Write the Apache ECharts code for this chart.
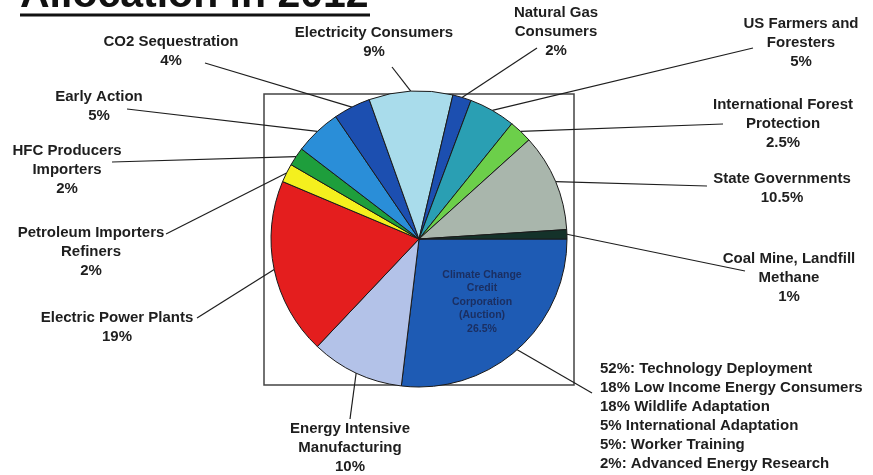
<!DOCTYPE html>
<html><head><meta charset="utf-8">
<script src="https://cdn.jsdelivr.net/npm/echarts@6/dist/echarts.min.js"></script>
<style>html,body{margin:0;padding:0;background:#fff}#c{width:873px;height:475px}</style>
</head><body><div id="c"></div>
<script>
// ---- data ----
const categories = [
  'Climate Change\nCredit\nCorporation\n(Auction)',
  'Energy Intensive\nManufacturing',
  'Electric Power Plants',
  'Petroleum Importers\nRefiners',
  'HFC Producers\nImporters',
  'Early Action',
  'CO2 Sequestration',
  'Electricity Consumers',
  'Natural Gas\nConsumers',
  'US Farmers and\nForesters',
  'International Forest\nProtection',
  'State Governments',
  'Coal Mine, Landfill\nMethane'
];
const values = [26.5, 10, 19, 2, 2, 5, 4, 9, 2, 5, 2.5, 10.5, 1];
const auctionUses = [
  '52%: Technology Deployment',
  '18% Low Income Energy Consumers',
  '18% Wildlife Adaptation',
  '5% International Adaptation',
  '5%: Worker Training',
  '2%: Advanced Energy Research'
];
const titleText = 'Allocation in 2012';

// ---- styling / layout ----
const colors = ['#1e5bb4','#b3c2e8','#e41e1e','#f4f01e','#1e9e3c','#2a8ed8','#1c4fb0',
                '#a9dceb','#1c4fb0','#2a9fb3','#6ccf4a','#a9b6ac','#14322a'];
// label placement: x,y = text anchor; ax,ay = leader line end at the label
const labelPos = [
  {x:600, y:359, align:'left',   va:'top',    ax:592, ay:393},
  {x:350, y:448, align:'center', va:'middle', ax:350, ay:419},
  {x:117, y:327, align:'center', va:'middle', ax:197, ay:318},
  {x:91,  y:252, align:'center', va:'middle', ax:166, ay:234},
  {x:67,  y:170, align:'center', va:'middle', ax:112, ay:162},
  {x:99,  y:106, align:'center', va:'middle', ax:127, ay:109},
  {x:171, y:51,  align:'center', va:'middle', ax:205, ay:63},
  {x:374, y:42,  align:'center', va:'middle', ax:392, ay:67},
  {x:556, y:32,  align:'center', va:'middle', ax:537, ay:48},
  {x:801, y:43,  align:'center', va:'middle', ax:753, ay:48},
  {x:783, y:124, align:'center', va:'middle', ax:723, ay:124},
  {x:782, y:188, align:'center', va:'middle', ax:707, ay:186},
  {x:789, y:278, align:'center', va:'middle', ax:745, ay:271}
];
const pieCenter = [419, 239];
const pieRadius = 148;
const FONT = '"Liberation Sans", Arial, sans-serif';

const data = categories.map((name, i) => ({
  name: name, value: values[i], itemStyle: {color: colors[i]}
}));

const chart = echarts.init(document.getElementById('c'), null, {renderer: 'canvas'});
chart.setOption({
  animation: false,
  backgroundColor: '#ffffff',
  graphic: [
    {type: 'rect', z: -1, shape: {x: 264, y: 94, width: 310, height: 291},
     style: {fill: 'none', stroke: '#444', lineWidth: 1.5}},
    {type: 'text', x: 20, y: -4,
     style: {text: titleText, font: 'bold 41px ' + FONT, fill: '#111', textVerticalAlign: 'middle'}},
    {type: 'line', shape: {x1: 20, y1: 15, x2: 370, y2: 15}, style: {stroke: '#111', lineWidth: 3}}
  ],
  series: [
    {
      type: 'pie',
      center: pieCenter,
      radius: pieRadius,
      startAngle: 0,
      clockwise: true,
      avoidLabelOverlap: false,
      data: data,
      itemStyle: {borderColor: '#1a1a1a', borderWidth: 1},
      emphasis: {disabled: true},
      label: {
        show: true,
        position: 'outer',
        alignTo: 'none',
        color: '#1e1e1e',
        fontFamily: FONT,
        fontWeight: 'bold',
        fontSize: 15,
        lineHeight: 19,
        formatter: function (p) {
          if (p.dataIndex === 0) return auctionUses.join('\n');
          return p.name + '\n' + values[p.dataIndex] + '%';
        },
        rich: {}
      },
      labelLine: {show: true, length: 10, length2: 10, smooth: false,
                  lineStyle: {color: '#1e1e1e', width: 1.2}},
      labelLayout: function (p) {
        const L = labelPos[p.dataIndex];
        const res = {x: L.x, y: L.y, align: L.align, verticalAlign: L.va};
        if (p.labelLinePoints) {
          res.labelLinePoints = [p.labelLinePoints[0], [L.ax, L.ay], [L.ax, L.ay]];
        }
        return res;
      }
    },
    {
      type: 'pie',
      center: pieCenter,
      radius: pieRadius,
      startAngle: 0,
      clockwise: true,
      silent: true,
      z: 3,
      data: categories.map((name, i) => ({
        name: name, value: values[i],
        itemStyle: {color: 'rgba(0,0,0,0)', borderWidth: 0},
        label: {show: i === 0}
      })),
      label: {
        position: 'inside',
        color: '#1b2f62',
        fontFamily: FONT,
        fontWeight: 'bold',
        fontSize: 10.5,
        lineHeight: 13.5,
        align: 'center',
        formatter: function (p) { return p.name + '\n' + values[p.dataIndex] + '%'; }
      },
      labelLine: {show: false},
      labelLayout: function (p) {
        return {x: 482, y: 302, align: 'center', verticalAlign: 'middle'};
      }
    }
  ]
});
</script>
</body></html>
